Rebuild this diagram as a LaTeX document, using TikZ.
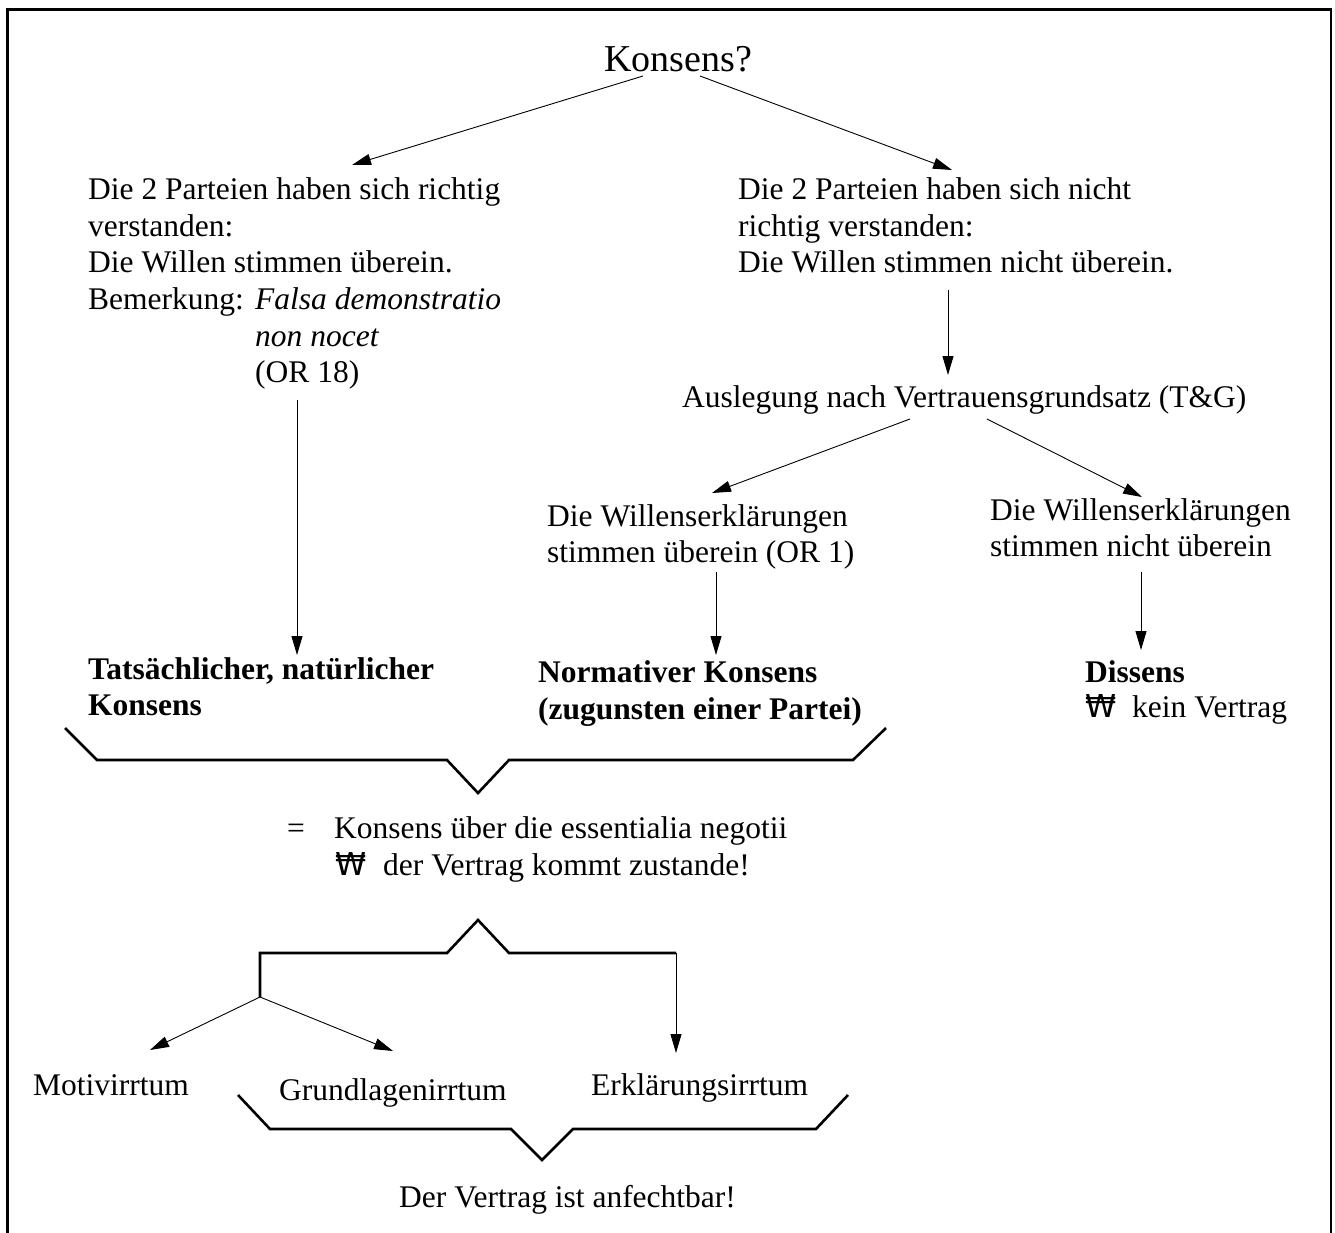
\documentclass[tikz,border=0pt]{standalone}
\usepackage{fontspec}
\setmainfont{Liberation Serif}
\newfontfamily\wonfont{DejaVu Sans}
\usetikzlibrary{arrows.meta}
\tikzset{
  txt/.style={anchor=base west, inner sep=0pt, font=\fontsize{31.5}{37}\selectfont},
  btxt/.style={txt, font=\fontsize{31.5}{37}\selectfont\bfseries},
  ttl/.style={anchor=base west, inner sep=0pt, font=\fontsize{38}{44}\selectfont},
  arr/.style={line width=0.9pt, -{Triangle[length=19pt,width=11pt]}},
  brace/.style={line width=2.6pt, line join=miter},
  frame/.style={line width=2.6pt}
}
\begin{document}
\begin{tikzpicture}[x=1pt,y=-1pt]
\useasboundingbox (0,0) rectangle (1335,1232);
\draw[frame] (7.5,9.5) rectangle (1331,1260);

% title
\node[ttl] (title) at (604,71) {Konsens?};

% left block
\node[txt] (l1) at (88,199) {Die 2 Parteien haben sich richtig};
\node[txt] (l2) at (88,236) {verstanden:};
\node[txt] (l3) at (88,272) {Die Willen stimmen überein.};
\node[txt] (l4) at (88,309) {Bemerkung:};
\node[txt] (l5) at (255,309) {\itshape Falsa demonstratio};
\node[txt] (l6) at (255,346) {\itshape non nocet};
\node[txt] (l7) at (255,382) {(OR 18)};

% right block
\node[txt] (r1) at (738,199) {Die 2 Parteien haben sich nicht};
\node[txt] (r2) at (738,236) {richtig verstanden:};
\node[txt] (r3) at (738,272) {Die Willen stimmen nicht überein.};

\node[txt] (ausl) at (682,407) {Auslegung nach Vertrauensgrundsatz (T\&G)};

\node[txt] (m1) at (547,526) {Die Willenserklärungen};
\node[txt] (m2) at (547,562) {stimmen überein (OR 1)};
\node[txt] (n1) at (990,520) {Die Willenserklärungen};
\node[txt] (n2) at (990,556) {stimmen nicht überein};

\node[btxt] (t1) at (88,679) {Tatsächlicher, natürlicher};
\node[btxt] (t2) at (88,715) {Konsens};
\node[btxt] (nk1) at (538,682) {Normativer Konsens};
\node[btxt] (nk2) at (538,719) {(zugunsten einer Partei)};
\node[btxt] (d1) at (1085,682) {Dissens};
\node[txt] (d2w) at (1085,717) {\wonfont ₩};
\node[txt] (d2) at (1132,717) {kein Vertrag};

\node[txt] (eq) at (287,838) {=};
\node[txt] (ks) at (334,838) {Konsens über die essentialia negotii};
\node[txt] (won) at (335,875) {\wonfont ₩};
\node[txt] (vk) at (383,875) {der Vertrag kommt zustande!};

\node[txt] (mot) at (33,1095) {Motivirrtum};
\node[txt] (gru) at (279,1100) {Grundlagenirrtum};
\node[txt] (erk) at (591,1095) {Erklärungsirrtum};
\node[txt] (anf) at (399,1207) {Der Vertrag ist anfechtbar!};

% connector coordinates
\coordinate (k-l) at (643,76);
\coordinate (k-r) at (700,76);
\coordinate (l-top) at (352,165);
\coordinate (r-top) at (952,170);
\coordinate (r-bot) at (948,290);
\coordinate (a-top) at (948,375);
\coordinate (a-l) at (910,419);
\coordinate (a-r) at (987,419);
\coordinate (m-top) at (712,493);
\coordinate (n-top) at (1142,497);
\coordinate (l-bot) at (297,400);
\coordinate (t-top) at (297,655);
\coordinate (m-bot) at (716,572);
\coordinate (nk-top) at (716,655);
\coordinate (n-bot) at (1141,572);
\coordinate (d-top) at (1141,650);
\coordinate (fork) at (260,997);
\coordinate (mot-top) at (150,1050);
\coordinate (gru-top) at (393,1051);
\coordinate (b2-end) at (676,953);
\coordinate (erk-top) at (676,1053);

\draw[arr] (k-l) -- (l-top);
\draw[arr] (k-r) -- (r-top);
\draw[arr] (r-bot) -- (a-top);
\draw[arr] (a-l) -- (m-top);
\draw[arr] (a-r) -- (n-top);
\draw[arr] (l-bot) -- (t-top);
\draw[arr] (m-bot) -- (nk-top);
\draw[arr] (n-bot) -- (d-top);
\draw[arr] (fork) -- (mot-top);
\draw[arr] (fork) -- (gru-top);
\draw[arr] (b2-end) -- (erk-top);

% braces
\draw[brace] (65,728) -- (97,760) -- (447,760) -- (478,793) -- (509,760) -- (853,760) -- (886,728);
\draw[brace] (fork) -- (260,953) -- (447,953) -- (478,920) -- (509,953) -- (b2-end);
\draw[brace] (238,1095) -- (270,1129) -- (511,1129) -- (542,1160) -- (573,1129) -- (816,1129) -- (848,1095);
\end{tikzpicture}
\end{document}
